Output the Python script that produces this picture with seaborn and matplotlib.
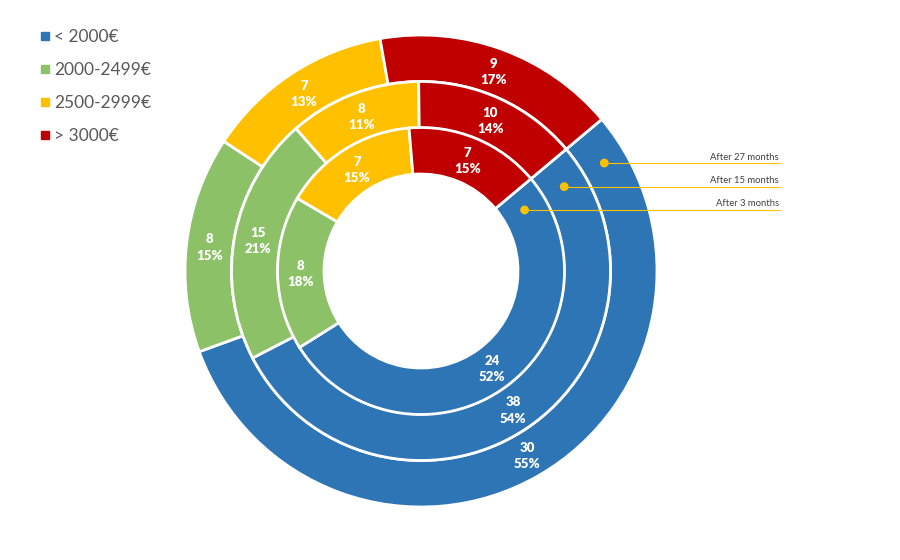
import matplotlib
matplotlib.use("Agg")
import matplotlib.pyplot as plt
import seaborn as sns
from matplotlib.lines import Line2D
import numpy as np

categories = ["< 2000€", "2000-2499€", "2500-2999€", "> 3000€"]
rings = ["After 27 months", "After 15 months", "After 3 months"]
vals_27 = [30, 8, 7, 9]
vals_15 = [38, 15, 8, 10]
vals_3 = [24, 8, 7, 7]
pct_27 = [55, 15, 13, 17]
pct_15 = [54, 21, 11, 14]
pct_3 = [52, 18, 15, 15]
series = [vals_27, vals_15, vals_3]
pcts = [pct_27, pct_15, pct_3]

colors = ["#2E75B6", "#8CC168", "#FFC000", "#C00000"]

sns.set_theme(style="white")
plt.rcParams["font.family"] = ["Lato", "DejaVu Sans"]

fig = plt.figure(figsize=(9, 5.6), dpi=100)
fig.patch.set_facecolor("white")
ax = fig.add_axes([0, 0, 1, 1])
cx, cy = 421, 271

radii = [236, 189.5, 143.5]
width = 46.5
start = 40
for vals, pc, r in zip(series, pcts, radii):
    wedges, _ = ax.pie(vals, radius=r, colors=colors, startangle=start,
                       counterclock=False, center=(0, 0), frame=True,
                       wedgeprops=dict(width=width, edgecolor="white", linewidth=2))
    for w, v, p in zip(wedges, vals, pc):
        ang = np.deg2rad((w.theta1 + w.theta2) / 2)
        rm = r - width / 2
        ax.text(rm * np.cos(ang), rm * np.sin(ang) - 1,
                f"{v}\n{p}%", ha="center", va="center",
                color="white", fontsize=9.5, fontweight="heavy", linespacing=1.45)

ax.set_xlim(-cx, 900 - cx)
ax.set_ylim(-(560 - cy), cy)
ax.set_aspect("equal")
ax.axis("off")

# ring annotations
ann_ang = np.deg2rad(30.5)
for name, r in zip(rings, radii):
    rm = r - width / 2
    px, py = rm * np.cos(ann_ang), rm * np.sin(ann_ang)
    ax.plot([px, 780 - cx], [py, py], color="#FFC000", lw=0.8, zorder=5)
    ax.scatter([px], [py], s=40, color="#FFC000", zorder=6, edgecolor="none")
    ax.text(779 - cx, py + 1.5, name, ha="right", va="bottom", fontsize=6.8, color="#404040")

handles = [Line2D([], [], marker="s", linestyle="none", markersize=6,
                  markerfacecolor=c, markeredgecolor=c) for c in colors]
leg = ax.legend(handles, categories, loc="upper left", bbox_to_anchor=(0.035, 0.96),
                frameon=False, fontsize=12.5, labelcolor="#595959",
                handletextpad=0.22, labelspacing=0.98, handlelength=0.7,
                borderaxespad=0)

fig.savefig("out.png", dpi=100, facecolor="white")
